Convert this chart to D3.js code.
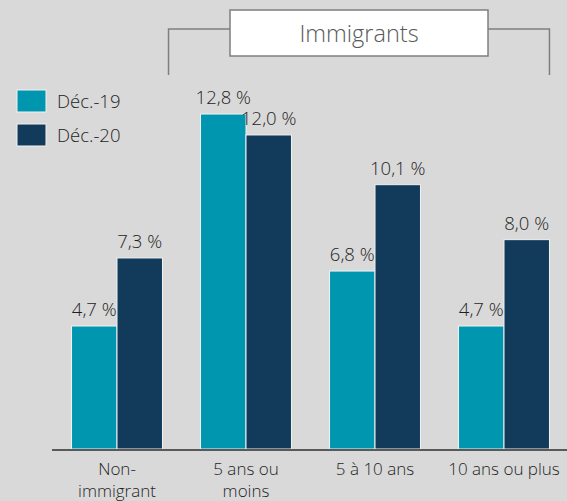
<!DOCTYPE html>
<html>
<head>
<meta charset="utf-8">
<script src="https://cdn.jsdelivr.net/npm/d3@7"></script>
<style>
  html, body { margin: 0; padding: 0; background: #d9d9d9; }
  svg { display: block; font-family: "Open Sans", Lato, sans-serif; }
</style>
</head>
<body>
<div id="chart"></div>
<script>
const WIDTH = 567, HEIGHT = 501;

const categories = [["Non-", "immigrant"], ["5 ans ou", "moins"], ["5 à 10 ans"], ["10 ans ou plus"]];
const series = ["Déc.-19", "Déc.-20"];
const dec19 = [4.7, 12.8, 6.8, 4.7];
const dec20 = [7.3, 12.0, 10.1, 8.0];
const COLORS = ["#0096b0", "#123b5b"];

const svg = d3.select("#chart").append("svg")
  .attr("width", WIDTH).attr("height", HEIGHT);

svg.append("rect").attr("width", WIDTH).attr("height", HEIGHT).attr("fill", "#d9d9d9");

const x0 = d3.scaleBand()
  .domain(d3.range(categories.length))
  .range([52.5, 568.5])
  .paddingInner(0.295)
  .paddingOuter(0.1475);

const x1 = d3.scaleBand()
  .domain(d3.range(series.length))
  .range([0, x0.bandwidth()]);

const y = d3.scaleLinear().domain([0, 13]).range([449, 449 - 26.17 * 13]);

const values = [dec19, dec20];
const fmt = v => d3.format(".1f")(v).replace(".", ",") + " %";

// bars
const groups = svg.append("g").selectAll("g")
  .data(categories.map((c, i) => i))
  .join("g")
  .attr("transform", i => `translate(${x0(i)},0)`);

groups.selectAll("rect")
  .data(i => series.map((s, k) => ({ k, v: values[k][i] })))
  .join("rect")
  .attr("x", d => x1(d.k))
  .attr("y", d => y(d.v))
  .attr("width", x1.bandwidth())
  .attr("height", d => y(0) - y(d.v))
  .attr("fill", d => COLORS[d.k])
  .attr("stroke", "#f2f2f2")
  .attr("stroke-width", 1);

groups.selectAll("text.val")
  .data(i => series.map((s, k) => ({ k, v: values[k][i] })))
  .join("text")
  .attr("class", "val")
  .attr("x", d => x1(d.k) + x1.bandwidth() / 2)
  .attr("y", d => y(d.v) - 10)
  .attr("text-anchor", "middle")
  .attr("font-size", 18.5)
  .attr("font-weight", 300)
  .attr("fill", "#1f1f1f")
  .text(d => fmt(d.v));

// baseline
svg.append("line")
  .attr("x1", 52).attr("x2", WIDTH)
  .attr("y1", y(0) + 1).attr("y2", y(0) + 1)
  .attr("stroke", "#595959").attr("stroke-width", 2);

// category labels, one text per line
const cat = svg.append("g").selectAll("g")
  .data(categories)
  .join("g")
  .attr("transform", (d, i) => `translate(${x0(i) + x0.bandwidth() / 2},0)`);
cat.selectAll("text")
  .data(d => d)
  .join("text")
  .attr("y", (d, j) => 474.5 + j * 22.5)
  .attr("text-anchor", "middle")
  .attr("font-size", 17)
  .attr("font-weight", 300)
  .attr("fill", "#1f1f1f")
  .text(d => d);

// legend
const leg = svg.append("g").selectAll("g")
  .data(series)
  .join("g")
  .attr("transform", (d, i) => `translate(17,${90 + i * 34})`);
leg.append("rect")
  .attr("width", 29).attr("height", 22)
  .attr("fill", (d, i) => COLORS[i])
  .attr("stroke", "#f2f2f2").attr("stroke-width", 1);
leg.append("text")
  .attr("x", 40).attr("y", 17.5)
  .attr("font-size", 18.5)
  .attr("font-weight", 300)
  .attr("fill", "#1f1f1f")
  .text(d => d);

// "Immigrants" bracket
const bx2 = x0(3) + x0.bandwidth();
const br = svg.append("g").attr("stroke", "#7f7f7f").attr("stroke-width", 1.5).attr("fill", "none");
br.append("path").attr("d", `M${x0(1) - 32},75V29H230M488,29H${bx2}V75`);
br.append("rect").attr("x", 230).attr("y", 10).attr("width", 258).attr("height", 46).attr("fill", "#ffffff");
svg.append("text")
  .attr("x", 359).attr("y", 42)
  .attr("text-anchor", "middle")
  .attr("font-size", 23.5)
  .attr("font-weight", 300)
  .attr("fill", "#595959")
  .text("Immigrants");
</script>
</body>
</html>
